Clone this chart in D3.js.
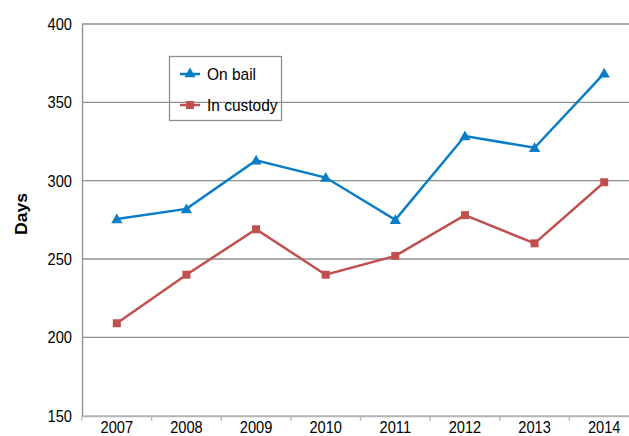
<!DOCTYPE html>
<html>
<head>
<meta charset="utf-8">
<script src="https://cdn.jsdelivr.net/npm/d3@7"></script>
<style>
  html, body { margin: 0; padding: 0; background: #fff; }
  svg { display: block; }
  text { font-family: "Liberation Sans", Arial, sans-serif; fill: #000; }
</style>
</head>
<body>
<svg id="chart" width="629" height="436"></svg>
<script>
const years = ["2007", "2008", "2009", "2010", "2011", "2012", "2013", "2014"];
const onBail = [275.5, 282, 313, 302, 275, 328.5, 321, 368.5];
const inCustody = [209, 240, 269, 240, 252, 278, 260, 299];
const yTicks = [150, 200, 250, 300, 350, 400];
const seriesNames = ["On bail", "In custody"];
const seriesColors = ["#0a7dc6", "#c0504d"];

const FONT = '"Liberation Sans", Arial, sans-serif';
const svg = d3.select("#chart");
const mLeft = 82, mRight = 639, mTop = 24, mBottom = 415.7;

function condense(sel, factor) {
  sel.each(function () {
    const w = this.getComputedTextLength();
    d3.select(this).attr("textLength", w * factor).attr("lengthAdjust", "spacingAndGlyphs");
  });
}

const x = d3.scaleBand().domain(years).range([mLeft, mRight]);
const y = d3.scaleLinear().domain([150, 400]).range([mBottom, mTop]);

// gridlines
svg.append("g").selectAll("line").data(yTicks.filter(d => d !== 150)).join("line")
  .attr("x1", mLeft).attr("x2", mRight)
  .attr("y1", d => y(d)).attr("y2", d => y(d))
  .attr("stroke", "#8f8f8f").attr("stroke-width", 1.3);

// y axis
const yAxis = d3.axisLeft(y).tickValues(yTicks).tickSize(0).tickPadding(10);
const gy = svg.append("g").attr("transform", `translate(${mLeft},0)`).call(yAxis);
gy.select(".domain").attr("stroke", "#8f8f8f").attr("stroke-width", 1.3);
gy.selectAll("text").style("font-size", "17px").style("font-family", FONT).call(condense, 0.86);

// x axis
const xAxis = d3.axisBottom(x).tickSize(0).tickPadding(5.5);
const gx = svg.append("g").attr("transform", `translate(0,${mBottom})`).call(xAxis);
gx.select(".domain").attr("stroke", "#b5b5b5").attr("stroke-width", 2);
gx.selectAll("text").style("font-size", "17px").style("font-family", FONT).call(condense, 0.86);
gx.append("g").selectAll("line").data(years).join("line")
  .attr("x1", d => x(d)).attr("x2", d => x(d))
  .attr("y1", 0).attr("y2", 5)
  .attr("stroke", "#b5b5b5").attr("stroke-width", 1.3);

// y label
svg.append("text")
  .attr("transform", `translate(26.5,214) rotate(-90) scale(1.1,1)`)
  .attr("text-anchor", "middle")
  .style("font-size", "16px").style("font-weight", "bold").style("font-family", FONT)
  .text("Days");

const cx = d => x(d) + x.bandwidth() / 2;
const line = d3.line().x(d => cx(d.year)).y(d => y(d.v));
const allSeries = [onBail, inCustody].map(vals => vals.map((v, j) => ({ year: years[j], v })));

const triangle = d3.symbol().type(d3.symbolTriangle).size(55);
const square = d3.symbol().type(d3.symbolSquare).size(64);
const symbols = [triangle, square];

allSeries.forEach((data, i) => {
  svg.append("path").datum(data)
    .attr("d", line).attr("fill", "none")
    .attr("stroke", seriesColors[i]).attr("stroke-width", 2.5);
  svg.append("g").selectAll("path").data(data).join("path")
    .attr("transform", d => `translate(${cx(d.year)},${y(d.v) + (i === 0 ? 1 : 0)})`)
    .attr("d", symbols[i]())
    .attr("fill", seriesColors[i]);
});

// legend
const lg = svg.append("g");
lg.append("rect").attr("x", 169.5).attr("y", 56.5).attr("width", 112).attr("height", 64)
  .attr("fill", "none").attr("stroke", "#8f8f8f").attr("stroke-width", 1.3);
const legendY = [74, 105];
seriesNames.forEach((name, i) => {
  lg.append("line").attr("x1", 180).attr("x2", 200)
    .attr("y1", legendY[i]).attr("y2", legendY[i])
    .attr("stroke", seriesColors[i]).attr("stroke-width", 2.5);
  lg.append("path").attr("transform", `translate(190,${legendY[i]})`)
    .attr("d", symbols[i]()).attr("fill", seriesColors[i]);
  lg.append("text").attr("x", 207).attr("y", legendY[i]).attr("dy", "0.35em")
    .style("font-size", "17px").style("font-family", FONT).text(name)
    .call(condense, 0.91);
});
</script>
</body>
</html>
